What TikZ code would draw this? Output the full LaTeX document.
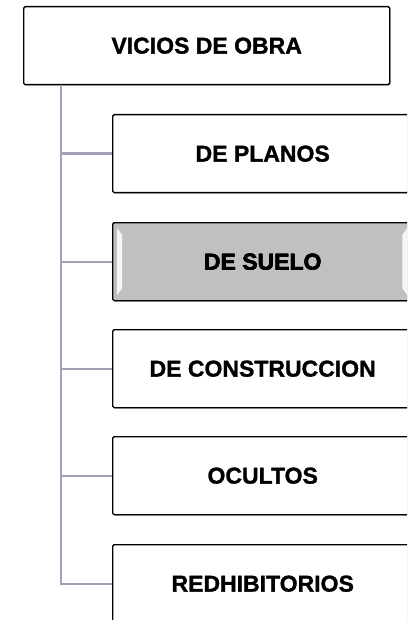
\documentclass[tikz,border=0pt]{standalone}
\usepackage{fontspec}
\setmainfont{Liberation Sans}[BoldFeatures={FakeBold=1.3}]
\usetikzlibrary{calc,shadows}
\definecolor{linkc}{HTML}{A2A2B6}
\definecolor{suelo}{HTML}{C0C0C0}
\tikzset{
  lbl/.style={font=\fontsize{23}{26}\selectfont\bfseries},
  box/.style={draw=black, line width=1.4pt, rounded corners=1.5pt, fill=white,
    minimum width=300pt, minimum height=78pt, anchor=north west, lbl, inner sep=0pt,
    drop shadow={shadow xshift=0.8pt, shadow yshift=-0.8pt, opacity=0.35, fill=black}},
  topbox/.style={box, minimum width=366pt},
  link/.style={draw=linkc, line width=2.4pt}
}
\begin{document}
\begin{tikzpicture}[x=1pt,y=1pt]
\useasboundingbox (0,0) rectangle (407,-620);
\clip (0,0) rectangle (407,-620);
\node[topbox] (top) at (23,-6) {VICIOS DE OBRA};
\node[box] (p1) at (112,-114) {DE PLANOS};
\node[box, fill=suelo] (p2) at (112,-222) {DE SUELO};
\node[box] (p3) at (112,-329) {DE CONSTRUCCION};
\node[box] (p4) at (112,-436) {OCULTOS};
\node[box] (p5) at (112,-544) {REDHIBITORIOS};
% bevel highlights on DE SUELO
\fill[white, opacity=0.85] ($(p2.north west)+(5,-6)$) -- ($(p2.north west)+(10,-13)$) -- ($(p2.south west)+(10,13)$) -- ($(p2.south west)+(5,6)$) -- cycle;
\fill[white, opacity=0.85] ($(p2.north east)+(-6,-6)$) -- ($(p2.north east)+(-11,-13)$) -- ($(p2.south east)+(-11,13)$) -- ($(p2.south east)+(-6,6)$) -- cycle;
\node[lbl] at (p2.center) {DE SUELO};
\coordinate (trunk) at ($(top.south west)+(38,0)$);
\draw[link] (trunk) |- (p5.west);
\foreach \n in {p1,p2,p3,p4}{
  \draw[link] (trunk |- \n.west) -- (\n.west);
}
\end{tikzpicture}
\end{document}
